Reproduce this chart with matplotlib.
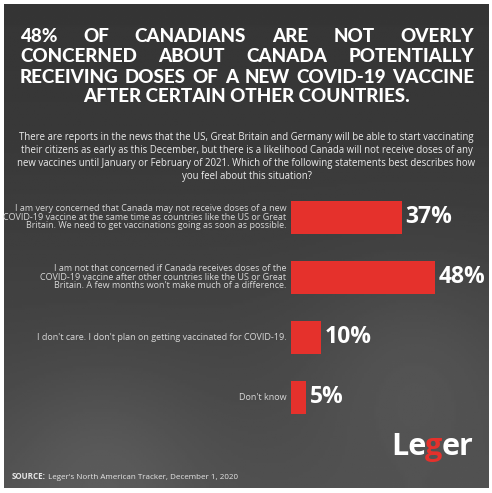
import matplotlib
matplotlib.use('Agg')
import matplotlib.pyplot as plt
import numpy as np

W, H, DPI = 492, 493, 100

title_lines = [
    "48% OF CANADIANS ARE NOT OVERLY",
    "CONCERNED ABOUT CANADA POTENTIALLY",
    "RECEIVING DOSES OF A NEW COVID-19 VACCINE",
    "AFTER CERTAIN OTHER COUNTRIES.",
]
question_lines = [
    "There are reports in the news that the US, Great Britain and Germany will be able to start vaccinating",
    "their citizens as early as this December, but there is a likelihood Canada will not receive doses of any",
    "new vaccines until January or February of 2021. Which of the following statements best describes how",
    "you feel about this situation?",
]
categories = [
    "I am very concerned that Canada may not receive doses of a new\nCOVID-19 vaccine at the same time as countries like the US or Great\nBritain. We need to get vaccinations going as soon as possible.",
    "I am not that concerned if Canada receives doses of the\nCOVID-19 vaccine after other countries like the US or Great\nBritain. A few months won't make much of a difference.",
    "I don't care. I don't plan on getting vaccinated for COVID-19.",
    "Don't know",
]
values = [37, 48, 10, 5]
value_labels = ["37%", "48%", "10%", "5%"]
source_bold = "SOURCE:"
source_text = " Leger's North American Tracker, December 1, 2020"
logo_parts = [("Le", "white"), ("g", "#e5312c"), ("er", "white")]

FONT = "Open Sans"
TFONT = "Lato"
RED = "#e5312c"

fig = plt.figure(figsize=(W / DPI, H / DPI), dpi=DPI)
fig.patch.set_facecolor("white")

# dark photo-like background
bg = fig.add_axes([4 / W, 5 / H, 485 / W, 484 / H])
yy, xx = np.mgrid[0:1:200j, 0:1:200j]
shade = 0.21 + 0.10 * yy ** 1.5 + 0.05 * np.exp(-((xx - 0.85) ** 2 + (yy - 0.75) ** 2) / 0.05) \
    + 0.05 * np.exp(-((xx - 0.2) ** 2 + (yy - 0.95) ** 2) / 0.04)
bg.imshow(shade, cmap="gray", vmin=0, vmax=1, aspect="auto", extent=[0, 1, 1, 0])
bg.set_axis_off()

renderer = fig.canvas.get_renderer()


def px(x, y):
    return x / W, 1 - y / H


def width_of(t):
    return t.get_window_extent(renderer).width


def fit_size(text, target, size0, **kw):
    t = fig.text(0, 0, text, fontsize=size0, **kw)
    w = width_of(t)
    t.remove()
    return size0 * target / w


def justified(line, y, x0, x1, **kw):
    words = line.split()
    ts = [fig.text(*px(0, y), w, va="baseline", ha="left", **kw) for w in words]
    widths = [width_of(t) for t in ts]
    gap = (x1 - x0 - sum(widths)) / (len(words) - 1)
    x = x0
    for t, w in zip(ts, widths):
        t.set_position(px(x, y))
        x += w + gap


# title
TW = "black"
tsize = fit_size(title_lines[3], 330, 14, fontweight=TW, family=TFONT)
title_kw = dict(fontsize=tsize, fontweight=TW, color="white", family=TFONT)
baselines = [42, 62.5, 83, 102]
for i, line in enumerate(title_lines):
    if i < 3:
        justified(line, baselines[i], 20, 474, **title_kw)
    else:
        fig.text(*px(247, baselines[i]), line, ha="center", va="baseline", **title_kw)

# question
qsize = fit_size(question_lines[0], 457, 7, family=FONT)
q_centers = [137.5, 150.5, 163.5, 176]
for line, yc in zip(question_lines, q_centers):
    fig.text(*px(246.5, yc), line, ha="center", va="center", fontsize=qsize,
             color="#ededed", family=FONT)

# bars
ax = fig.add_axes([291 / W, 1 - 427 / H, 198 / W, 240 / H])
ax.set_xlim(0, 66)
ax.set_ylim(3.5, -0.5)
ax.set_axis_off()
ypos = np.arange(len(values))
ax.barh(ypos, values, height=0.55, color=RED)
for y, v, lab in zip(ypos, values, value_labels):
    ax.text(v + 1.2, y, lab, ha="left", va="center", fontsize=16.5,
            fontweight="bold", color="white", family=FONT)

csize = fit_size(categories[2], 250, 6.5, family=FONT)
for y, cat in zip(ypos, categories):
    ax.text(-1.6, y, cat, ha="right", va="center", fontsize=csize,
            color="#d8d8d8", family=FONT, linespacing=0.98, multialignment="right")

# source
ssize = fit_size(source_bold + source_text, 228, 6.1, family=FONT)
t1 = fig.text(*px(12, 479), source_bold, ha="left", va="baseline", fontsize=ssize,
              fontweight="bold", color="#e6e6e6", family=FONT)
fig.text(*px(12 + width_of(t1), 479), source_text, ha="left", va="baseline",
         fontsize=ssize, color="#e6e6e6", family=FONT)

# logo
x = 391
for part, col in logo_parts:
    t = fig.text(*px(x, 455), part, ha="left", va="baseline", fontsize=22,
                 fontweight="bold", color=col, family=FONT)
    x += width_of(t) - 1

fig.savefig("out.png", dpi=DPI, facecolor=fig.get_facecolor())
